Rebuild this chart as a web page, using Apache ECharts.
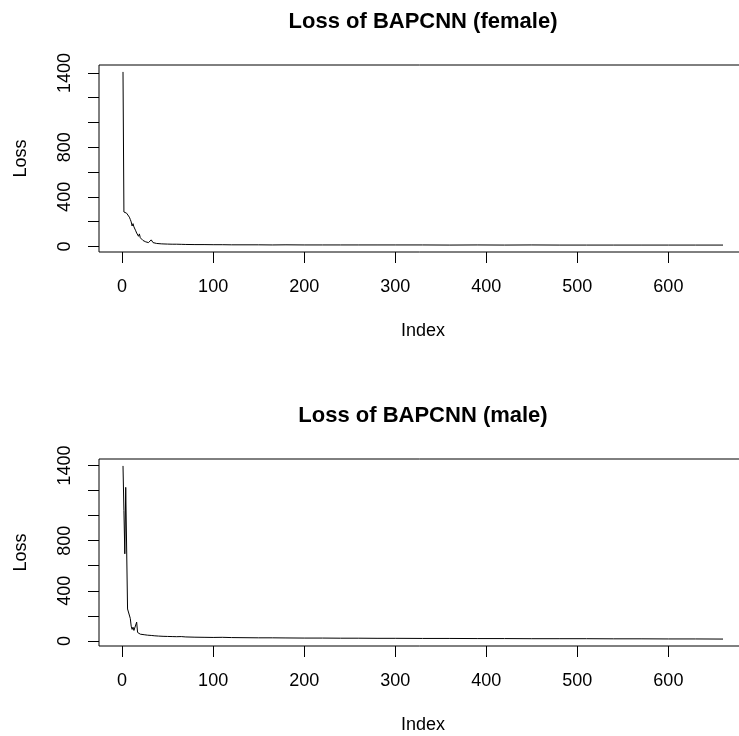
<!DOCTYPE html>
<html><head><meta charset="utf-8">
<script src="https://cdn.jsdelivr.net/npm/echarts@6/dist/echarts.min.js"></script>
<style>html,body{margin:0;padding:0;background:#fff}#c{width:739px;height:736px}</style>
</head><body><div id="c"></div>
<script>
const femaleIndex = [1,2,3,4,5,6,7,8,9,10,11,12,13,14,15,16,17,18,19,20,21,22,23,24,25,26,27,28,29,30,31,32,33,34,35,36,38,40,43,46,50,55,60,62,65,70,80,90,100,110,120,135,150,165,180,200,220,240,260,280,300,330,360,390,420,450,480,510,540,570,600,630,660];
const femaleLoss = [1408,278,274,271,268,262,252,236,218,198,165,184,158,146,126,108,94,82,101,70,61,54,48,44,40,37,35,33,31,30,40,53,37,31,28,26,24,22,21,20,19,18,18,21,17,16,15,15,14,14,13,13,13,12,13,12,12,12,12,12,12,12,11,12,11,12,11,11,11,11,11,11,11];
const maleIndex = [1,2,3,4,5,6,7,8,9,10,11,12,13,14,15,16,17,18,19,20,22,25,28,32,36,40,45,50,55,60,65,70,80,90,100,110,120,135,150,165,180,200,220,240,260,280,300,330,360,390,420,450,480,510,540,570,600,630,660];
const maleLoss = [1396,1040,695,1225,1215,255,248,242,180,118,92,110,84,74,92,150,68,61,57,54,52,49,46,44,41,39,37,36,35,34,35,32,30,29,28,29,27,26,25,25,24,23,23,22,22,21,21,20,20,19,19,18,18,18,17,17,16,16,15];
const xTicks = [0,100,200,300,400,500,600];
const yTicks = [0,200,400,600,800,1000,1200,1400];
const yTickLabels = [0,400,800,1400];
const titles = ['Loss of BAPCNN (female)', 'Loss of BAPCNN (male)'];
const xName = 'Index';
const yName = 'Loss';

const FONT = '"Liberation Sans", Arial, Helvetica, sans-serif';
function rng(a){const lo=Math.min(...a),hi=Math.max(...a),d=0.04*(hi-lo);return [lo-d,hi+d];}
const panels = [[femaleIndex,femaleLoss],[maleIndex,maleLoss]];
const OFF = 394;
const grids=[],xAxes=[],yAxes=[],series=[],graphics=[];
panels.forEach((p,i)=>{
  const xr=rng(p[0]), yr=rng(p[1]);
  grids.push({left:99,top:65+i*OFF,width:648,height:187,show:true,borderColor:'#000',borderWidth:1,backgroundColor:'transparent',outerBoundsMode:'none',containLabel:false});
  xAxes.push({gridIndex:i,type:'value',min:xr[0],max:xr[1],
    axisLine:{show:false,onZero:false},splitLine:{show:false},
    axisTick:{show:true,customValues:xTicks,length:11,lineStyle:{color:'#000',width:1}},
    axisLabel:{customValues:xTicks,margin:26,fontSize:18,fontFamily:FONT,color:'#000',formatter:v=>String(v)},
    name:xName,nameLocation:'middle',nameGap:70,nameTextStyle:{fontSize:18,fontFamily:FONT,color:'#000'}});
  yAxes.push({gridIndex:i,type:'value',min:yr[0],max:yr[1],
    axisLine:{show:false,onZero:false},splitLine:{show:false},
    axisTick:{show:true,customValues:yTicks,length:11,lineStyle:{color:'#000',width:1}},
    axisLabel:{customValues:yTickLabels,rotate:90,margin:25,fontSize:18,fontFamily:FONT,color:'#000',formatter:v=>String(v)},
    name:yName,nameLocation:'middle',nameRotate:90,nameGap:69,nameTextStyle:{fontSize:18,fontFamily:FONT,color:'#000'}});
  series.push({type:'line',xAxisIndex:i,yAxisIndex:i,data:p[0].map((x,k)=>[x,p[1][k]]),
    showSymbol:false,symbol:'none',lineStyle:{color:'#000',width:1},silent:true,animation:false});
  graphics.push({type:'text',x:423,y:22+i*OFF,style:{text:titles[i],textAlign:'center',textVerticalAlign:'middle',fontSize:22,fontWeight:'bold',fontFamily:FONT,fill:'#000'}});
});
const chart = echarts.init(document.getElementById('c'),null,{renderer:'canvas'});
chart.setOption({animation:false,backgroundColor:'#fff',grid:grids,xAxis:xAxes,yAxis:yAxes,series:series,graphic:graphics});
</script></body></html>
